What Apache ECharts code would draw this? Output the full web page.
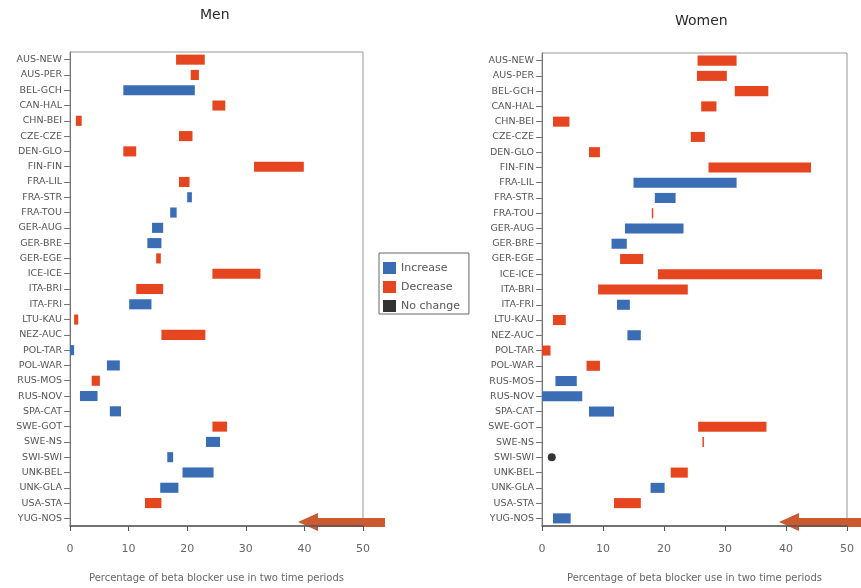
<!DOCTYPE html>
<html>
<head>
<meta charset="utf-8">
<script src="https://cdn.jsdelivr.net/npm/echarts@6/dist/echarts.min.js"></script>
<style>
html,body{margin:0;padding:0;background:#fff;}
#chart{width:861px;height:588px;}
</style>
</head>
<body>
<div id="chart"></div>
<script>
const categories = ['AUS-NEW','AUS-PER','BEL-GCH','CAN-HAL','CHN-BEI','CZE-CZE','DEN-GLO','FIN-FIN','FRA-LIL','FRA-STR','FRA-TOU','GER-AUG','GER-BRE','GER-EGE','ICE-ICE','ITA-BRI','ITA-FRI','LTU-KAU','NEZ-AUC','POL-TAR','POL-WAR','RUS-MOS','RUS-NOV','SPA-CAT','SWE-GOT','SWE-NS','SWI-SWI','UNK-BEL','UNK-GLA','USA-STA','YUG-NOS'];

// first and second time period (%), men
const menFirst  = [23.0,22.0, 9.1,26.5,2.0,20.9,11.3,39.9,20.4,20.0,17.1,14.0,13.2,15.5,32.5,15.9,10.1,1.4,23.1,0.0,6.3,5.1,1.7,6.8,26.8,23.2,16.6,19.2,15.4,15.6,null];
const menSecond = [18.1,20.6,21.3,24.3,1.0,18.6, 9.1,31.4,18.6,20.8,18.2,15.9,15.6,14.7,24.3,11.3,13.9,0.7,15.6,0.7,8.5,3.7,4.7,8.7,24.3,25.6,17.6,24.5,18.5,12.8,null];

// first and second time period (%), women
const womenFirst  = [31.9,30.3,37.1,28.6,4.5,26.7,9.5,44.1,15.0,18.5,18.2,13.6,11.4,16.6,45.9,23.9,12.3,3.9,14.0,1.4,9.5,2.2,0.0, 7.7,36.8,26.5,1.6,23.9,17.8,16.2,1.8];
const womenSecond = [25.5,25.4,31.6,26.1,1.8,24.4,7.7,27.3,31.9,21.9,18.0,23.2,13.9,12.8,19.0, 9.2,14.4,1.8,16.2,0.0,7.3,5.7,6.6,11.8,25.6,26.3,1.6,21.1,20.1,11.8,4.7];

const xTickValues = [0,10,20,30,40,50];

const BLUE = '#3a6db4';
const RED = '#e5461f';

function splitChanges(first, second) {
  const inc = [], dec = [], same = [];
  first.forEach((a, i) => {
    const b = second[i];
    if (a == null || b == null) return;
    if (b > a) inc.push([a, b, i]);
    else if (b < a) dec.push([b, a, i]);
    else same.push([a, i]);
  });
  return {inc, dec, same};
}

const men = splitChanges(menFirst, menSecond);
const women = splitChanges(womenFirst, womenSecond);

function renderRange(params, api) {
  const cat = api.value(2);
  const s = api.coord([api.value(0), cat]);
  const e = api.coord([api.value(1), cat]);
  const h = api.size([0, 1])[1] * 0.66;
  const w = Math.max(e[0] - s[0], 1.5);
  return {
    type: 'rect',
    shape: {x: s[0], y: s[1] - h / 2, width: w, height: h},
    style: api.style()
  };
}

function rangeSeries(name, data, idx, color) {
  return {
    name, type: 'custom', xAxisIndex: idx, yAxisIndex: idx,
    renderItem: renderRange, data,
    encode: {x: [0, 1], y: 2},
    itemStyle: {color}
  };
}

const font = 'DejaVu Sans';

function xAxisCfg(idx) {
  return {
    type: 'value', gridIndex: idx, min: 0, max: 50, interval: 10,
    axisLine: {show: true, lineStyle: {color: '#555', width: 1.5}},
    axisTick: {show: true, length: 5, lineStyle: {color: '#555'}},
    axisLabel: {color: '#666', fontSize: 11, fontFamily: font, margin: 18,
      formatter: v => xTickValues.includes(v) ? String(v) : ''},
    splitLine: {show: false},
    name: 'Percentage of beta blocker use in two time periods',
    nameLocation: 'middle', nameGap: 47,
    nameTextStyle: {color: '#666', fontSize: 10, fontFamily: font}
  };
}
function yAxisCfg(idx) {
  return {
    type: 'category', gridIndex: idx, data: categories, inverse: true,
    axisLine: {show: true, lineStyle: {color: '#777'}},
    axisTick: {show: true, alignWithLabel: true, length: 6, lineStyle: {color: '#777'}},
    axisLabel: {color: '#555', fontSize: 9.5, fontFamily: font, margin: 8, interval: 0},
    splitLine: {show: false}
  };
}

const chart = echarts.init(document.getElementById('chart'));
chart.setOption({
  animation: false,
  backgroundColor: '#fff',
  grid: [
    {left: 70, top: 52, width: 293, height: 476, show: true, borderColor: '#999', borderWidth: 1},
    {left: 542, top: 53, width: 305, height: 477, show: true, borderColor: '#999', borderWidth: 1}
  ],
  xAxis: [xAxisCfg(0), xAxisCfg(1)],
  yAxis: [yAxisCfg(0), yAxisCfg(1)],
  legend: {
    orient: 'vertical', left: 379, top: 253,
    data: ['Increase', 'Decrease', 'No change'],
    icon: 'rect', itemWidth: 13, itemHeight: 12, itemGap: 7,
    padding: [9, 9, 2, 4],
    borderColor: '#666', borderWidth: 1,
    textStyle: {color: '#555', fontSize: 11, fontFamily: font},
    selectedMode: false
  },
  series: [
    rangeSeries('Increase', men.inc, 0, BLUE),
    rangeSeries('Decrease', men.dec, 0, RED),
    rangeSeries('Increase', women.inc, 1, BLUE),
    rangeSeries('Decrease', women.dec, 1, RED),
    {name: 'No change', type: 'scatter', xAxisIndex: 0, yAxisIndex: 0, data: men.same,
      symbolSize: 8, itemStyle: {color: '#000'}},
    {name: 'No change', type: 'scatter', xAxisIndex: 1, yAxisIndex: 1, data: women.same,
      symbolSize: 8, itemStyle: {color: '#000'}}
  ],
  graphic: [
    {type: 'text', left: 200, top: 8, style: {text: 'Men', fill: '#2a2a2a', font: '14px "DejaVu Sans"'}},
    {type: 'text', left: 675, top: 14, style: {text: 'Women', fill: '#2a2a2a', font: '14px "DejaVu Sans"'}},
    {type: 'polygon', shape: {points: [[298,522],[318,513],[318,518],[385,518],[385,527],[318,527],[318,531]]},
      style: {fill: '#cb5a30'}},
    {type: 'polygon', shape: {points: [[779,522],[799,513],[799,518],[861,518],[861,527],[799,527],[799,531]]},
      style: {fill: '#cb5a30'}}
  ]
});
</script>
</body>
</html>
